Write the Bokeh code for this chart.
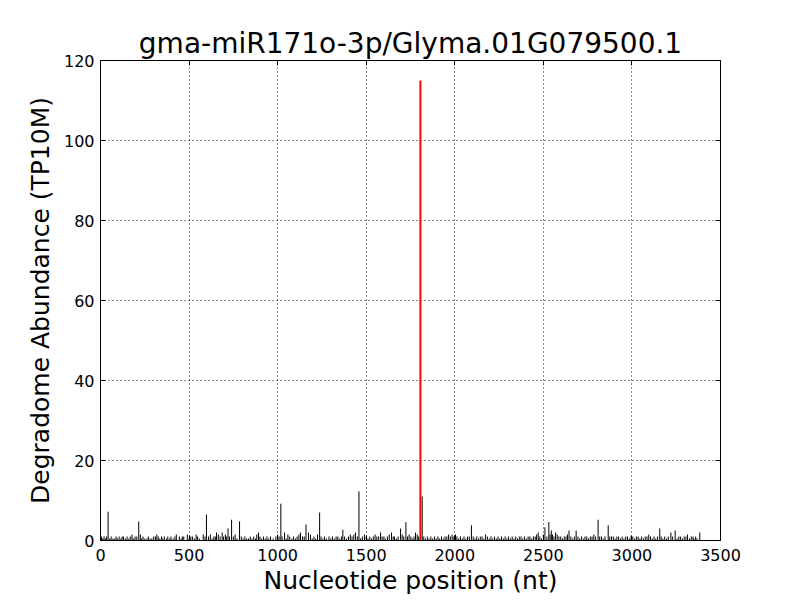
from bokeh.plotting import figure
from bokeh.models import Range1d, FixedTicker, LinearAxis, ColumnDataSource
from bokeh.embed import file_html
from bokeh.resources import INLINE

title_text = "gma-miR171o-3p/Glyma.01G079500.1"
x_label = "Nucleotide position (nt)"
y_label = "Degradome Abundance (TP10M)"
x_ticks = [0, 500, 1000, 1500, 2000, 2500, 3000, 3500]
y_ticks = [0, 20, 40, 60, 80, 100, 120]

# low-level background reads
small_pos = [
    5, 12, 20, 28, 35, 52, 60, 70, 78, 88,
    95, 105, 115, 122, 130, 140, 150, 160, 168, 178,
    185, 195, 205, 225, 232, 240, 250, 262, 270, 280,
    290, 300, 310, 318, 326, 335, 345, 352, 360, 372,
    380, 390, 398, 410, 420, 428, 445, 455, 462, 470,
    490, 500, 510, 520, 530, 540, 548, 558, 580, 590,
    610, 620, 630, 640, 648, 665, 675, 695, 705, 712,
    728, 750, 760, 770, 795, 805, 815, 825, 835, 845,
    855, 865, 875, 882, 900, 910, 920, 930, 940, 950,
    960, 975, 990, 1000, 1008, 1025, 1048, 1058, 1068, 1080,
    1090, 1100, 1110, 1120, 1140, 1150, 1185, 1195, 1205, 1215,
    1225, 1245, 1255, 1265, 1275, 1290, 1300, 1310, 1320, 1330,
    1340, 1350, 1360, 1378, 1390, 1400, 1410, 1420, 1430, 1450,
    1468, 1478, 1490, 1500, 1510, 1520, 1530, 1540, 1550, 1560,
    1570, 1590, 1600, 1610, 1620, 1630, 1652, 1660, 1670, 1680,
    1703, 1712, 1733, 1742, 1752, 1760, 1770, 1788, 1796, 1825,
    1835, 1845, 1855, 1865, 1875, 1885, 1895, 1905, 1915, 1925,
    1935, 1945, 1955, 1965, 1975, 1985, 1995, 2012, 2022, 2032,
    2042, 2052, 2062, 2072, 2082, 2104, 2114, 2124, 2134, 2144,
    2154, 2164, 2174, 2184, 2194, 2204, 2214, 2224, 2234, 2244,
    2254, 2264, 2274, 2284, 2294, 2304, 2314, 2324, 2334, 2344,
    2354, 2364, 2374, 2384, 2394, 2404, 2414, 2424, 2434, 2444,
    2454, 2462, 2480, 2490, 2500, 2520, 2538, 2552, 2560, 2578,
    2588, 2598, 2608, 2618, 2628, 2636, 2655, 2665, 2675, 2695,
    2705, 2715, 2725, 2735, 2745, 2755, 2765, 2775, 2785, 2795,
    2818, 2828, 2838, 2848, 2875, 2885, 2895, 2905, 2915, 2925,
    2935, 2945, 2955, 2965, 2975, 2985, 2995, 3005, 3015, 3025,
    3035, 3045, 3055, 3065, 3075, 3085, 3095, 3105, 3115, 3125,
    3135, 3145, 3165, 3175, 3185, 3195, 3205, 3230, 3255, 3265,
    3275, 3285, 3295, 3305, 3325, 3335, 3345, 3350, 3360, 3368,
]
small_val = [
    1, 0.5, 1, 0.5, 1, 0.5, 1, 0.5, 0.5, 1,
    0.5, 1, 0.5, 1, 1, 0.5, 1, 0.5, 1, 1.5,
    0.5, 1, 1, 1.5, 0.5, 1, 0.5, 0.5, 1, 0.5,
    0.5, 1, 1, 1.5, 1, 0.5, 1, 0.5, 1, 0.5,
    1, 0.5, 1, 0.5, 1, 1.5, 1, 0.5, 1, 1,
    1.5, 0.5, 1, 1, 0.5, 1.5, 1, 0.5, 1.5, 1,
    1, 1.5, 0.5, 1, 1, 1.5, 1, 1, 1.5, 1,
    1, 1, 1.5, 0.5, 1, 0.5, 1, 0.5, 0.5, 1,
    0.5, 1, 0.5, 1.5, 1, 0.5, 1, 0.5, 1, 0.5,
    1, 0.5, 1, 1.5, 1, 1, 0.5, 1.5, 1, 0.5,
    1, 0.5, 1, 1.5, 1, 1, 1.5, 0.5, 1, 0.5,
    1.5, 1, 0.5, 1, 0.5, 1, 0.5, 1, 0.5, 1,
    1, 0.5, 1, 1, 0.5, 1, 1.5, 1, 1.5, 1,
    0.5, 1, 1.5, 1, 0.5, 1, 0.5, 1, 1.5, 1,
    1, 1, 1, 0.5, 1, 1.5, 1, 1, 0.5, 1,
    1.5, 1, 1, 1.5, 1, 0.5, 1, 1.5, 1, 1,
    0.5, 1, 0.5, 1, 0.5, 1, 0.5, 1, 0.5, 1,
    0.5, 1, 1, 1.5, 1, 1.5, 1, 1, 0.5, 1,
    0.5, 1, 0.5, 1, 1, 1, 0.5, 1, 0.5, 1,
    1, 0.5, 1.5, 1, 0.5, 1, 0.5, 1, 0.5, 1,
    0.5, 1, 0.5, 1, 0.5, 1, 0.5, 1, 0.5, 1,
    0.5, 1, 1, 0.5, 1, 0.5, 1, 1, 0.5, 1,
    1, 1.5, 1, 0.5, 1.5, 1, 1.5, 1.5, 1, 1.5,
    1, 1, 0.5, 1, 1, 1.5, 1, 0.5, 1, 1,
    0.5, 1, 0.5, 1, 1, 0.5, 1, 1, 1.5, 1,
    1, 1, 0.5, 1, 1, 1, 1, 0.5, 1, 1,
    0.5, 1, 0.5, 1, 1, 0.5, 1, 1, 0.5, 1,
    1, 0.5, 1, 0.5, 1, 1, 1.5, 1, 0.5, 1,
    0.5, 1, 1, 0.5, 1, 0.5, 1, 1, 0.5, 1,
    1, 0.5, 1, 1, 0.5, 1, 1, 0.5, 1, 0.5,
]

# taller background peaks
peak_pos = [43, 216, 598, 655, 687, 720, 740, 785, 892, 1018,
            1039, 1129, 1160, 1174, 1237, 1368, 1440, 1459, 1581, 1643,
            1694, 1724, 1778, 1816, 2004, 2094, 2471, 2509, 2531, 2545,
            2569, 2645, 2685, 2809, 2866, 3157, 3220, 3244, 3314, 3383]
peak_val = [7.2, 4.75, 6.5, 2, 2, 3, 5.2, 4.8, 2, 9.2,
            2, 2, 4, 2, 7, 2.7, 2, 12.3, 2, 2,
            3, 4.6, 2, 11, 1.5, 3.8, 2, 3.3, 4.6, 2.5,
            2, 2.5, 2.5, 5.2, 3.8, 3, 2, 2.5, 1.5, 2]

# miRNA cleavage site
target_pos = [1806]
target_val = [115]

FONT = "DejaVu Sans"

p = figure(width=800, height=600, output_backend="svg", toolbar_location=None,
           x_range=Range1d(0, 3500), y_range=Range1d(0, 120),
           min_border_left=100, min_border_right=80, min_border_top=60, min_border_bottom=60,
           title=title_text)

p.title.text_font = FONT
p.title.text_font_size = "28px"
p.title.text_font_style = "normal"
p.title.align = "center"
p.title.text_color = "black"
p.title.standoff = 2

p.outline_line_color = "black"
p.outline_line_width = 1
p.outline_line_alpha = 1
p.background_fill_color = "white"
p.border_fill_color = "white"

for ax, ticks in ((p.xaxis[0], x_ticks), (p.yaxis[0], y_ticks)):
    ax.ticker = FixedTicker(ticks=ticks)
    ax.major_tick_in = 5
    ax.major_tick_out = 0
    ax.minor_tick_line_color = None
    ax.axis_line_color = "black"
    ax.major_tick_line_color = "black"
    ax.major_label_text_font = FONT
    ax.major_label_text_font_size = "16px"
    ax.major_label_text_color = "black"
    ax.axis_label_text_font = FONT
    ax.axis_label_text_font_size = "25px"
    ax.axis_label_text_font_style = "normal"
    ax.axis_label_text_color = "black"

p.xaxis.axis_label = x_label
p.yaxis.axis_label = y_label
p.xaxis.major_label_standoff = 8
p.xaxis.axis_label_standoff = 2
p.yaxis.major_label_standoff = 6
p.yaxis.axis_label_standoff = 6

# mirrored ticks on top and right (classic style), without labels
top_ax = LinearAxis(ticker=FixedTicker(ticks=x_ticks), major_tick_in=5, major_tick_out=0,
                    minor_tick_line_color=None, major_label_text_color=None,
                    major_label_text_font_size="0px",
                    major_label_standoff=0, axis_line_color="black")
right_ax = LinearAxis(ticker=FixedTicker(ticks=y_ticks), major_tick_in=5, major_tick_out=0,
                      minor_tick_line_color=None, major_label_text_color=None,
                      major_label_text_font_size="0px",
                      major_label_standoff=0, axis_line_color="black")
p.add_layout(top_ax, "above")
p.add_layout(right_ax, "right")

p.xgrid.ticker = FixedTicker(ticks=x_ticks)
p.ygrid.ticker = FixedTicker(ticks=y_ticks)
for g in (p.xgrid[0], p.ygrid[0]):
    g.grid_line_color = "black"
    g.grid_line_dash = "1 3"
    g.grid_line_width = 1
    g.grid_line_alpha = 0.9

small_src = ColumnDataSource(dict(x=small_pos, y0=[0] * len(small_pos), y=small_val))
peak_src = ColumnDataSource(dict(x=peak_pos, y0=[0] * len(peak_pos), y=peak_val))
target_src = ColumnDataSource(dict(x=target_pos, y0=[0] * len(target_pos), y=target_val))

p.segment(x0="x", y0="y0", x1="x", y1="y", source=small_src, line_color="black", line_width=1)
p.segment(x0="x", y0="y0", x1="x", y1="y", source=peak_src, line_color="black", line_width=1)
p.segment(x0="x", y0="y0", x1="x", y1="y", source=target_src, line_color="red", line_width=2)

open("out.html", "w").write(file_html(p, INLINE))
